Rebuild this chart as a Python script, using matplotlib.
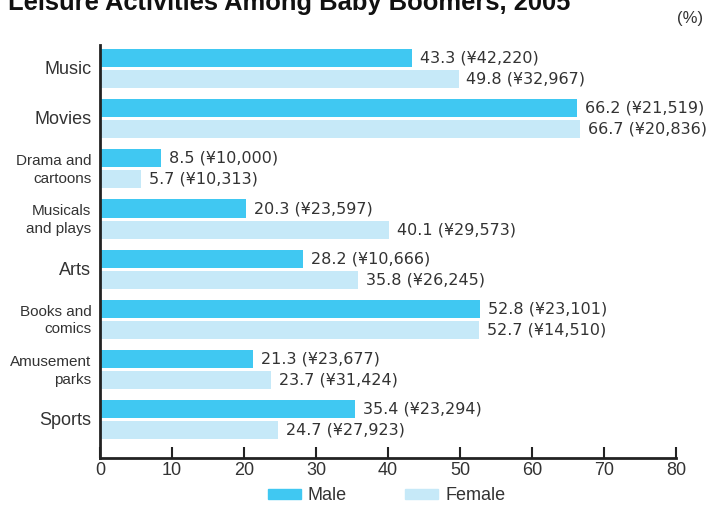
import matplotlib
matplotlib.use("Agg")
import matplotlib.pyplot as plt
from matplotlib.patches import Patch

plt.rcParams['font.family'] = ['Liberation Sans', 'DejaVu Sans']

categories = ["Music", "Movies", "Drama and\ncartoons", "Musicals\nand plays", "Arts",
              "Books and\ncomics", "Amusement\nparks", "Sports"]
male_pct = [43.3, 66.2, 8.5, 20.3, 28.2, 52.8, 21.3, 35.4]
female_pct = [49.8, 66.7, 5.7, 40.1, 35.8, 52.7, 23.7, 24.7]
male_yen = [42220, 21519, 10000, 23597, 10666, 23101, 23677, 23294]
female_yen = [32967, 20836, 10313, 29573, 26245, 14510, 31424, 27923]
xticks = [0, 10, 20, 30, 40, 50, 60, 70, 80]

male_color = "#40C8F2"
female_color = "#C6E9F8"
text_color = "#333333"

fig = plt.figure(figsize=(7.08, 5.05), dpi=100)
ax = fig.add_axes([100/708, 1 - 458/505, 576/708, (458-45)/505])

off = 0.21
h = 0.36
ys = list(range(len(categories)))
ax.barh([y - off for y in ys], male_pct, height=h, color=male_color, linewidth=0)
ax.barh([y + off for y in ys], female_pct, height=h, color=female_color, linewidth=0)

val_font = dict(fontsize=11.5, color=text_color, family=['DejaVu Sans'])
for y, v, yen in zip(ys, male_pct, male_yen):
    ax.text(v + 1.1, y - off, f"{v:.1f} (¥{yen:,})", va="center", ha="left", **val_font)
for y, v, yen in zip(ys, female_pct, female_yen):
    ax.text(v + 1.1, y + off, f"{v:.1f} (¥{yen:,})", va="center", ha="left", **val_font)

ax.set_xlim(0, 80)
ax.set_ylim(7.76, -0.468)
ax.set_xticks(xticks)
ax.set_xticklabels([str(t) for t in xticks], fontsize=13, color=text_color)
ax.tick_params(axis="x", direction="in", length=8, width=1.5, colors="#222222",
               labelcolor=text_color, pad=3)
ax.set_yticks(ys)
ax.set_yticklabels([])
ax.tick_params(axis="y", length=0)
for y, c in zip(ys, categories):
    fs = 13 if "\n" not in c else 11
    ax.text(-1.2, y + 0.02, c, ha="right", va="center", fontsize=fs, color=text_color,
            linespacing=1.35, multialignment="right")

for s in ["top", "right"]:
    ax.spines[s].set_visible(False)
for s in ["left", "bottom"]:
    ax.spines[s].set_linewidth(2)
    ax.spines[s].set_color("#222222")

fig.text(8/708, 1 - 10/505, "Leisure Activities Among Baby Boomers, 2005", fontsize=18.4,
         fontweight="bold", color="#111111", ha="left", va="baseline")
fig.text(703/708, 1 - 18/505, "(%)", fontsize=12, color=text_color, ha="right", va="center")

handles = [Patch(color=male_color, label="Male"), Patch(color=female_color, label="Female")]
fig.legend(handles=handles, loc="center", bbox_to_anchor=(386.5/708, 1 - 496/505), ncol=2,
           frameon=False, fontsize=13, handlelength=1.83, handleheight=0.5,
           columnspacing=3.2, handletextpad=0.4, labelcolor=text_color,
           borderpad=0, borderaxespad=0)

fig.savefig("out.png", dpi=100)
